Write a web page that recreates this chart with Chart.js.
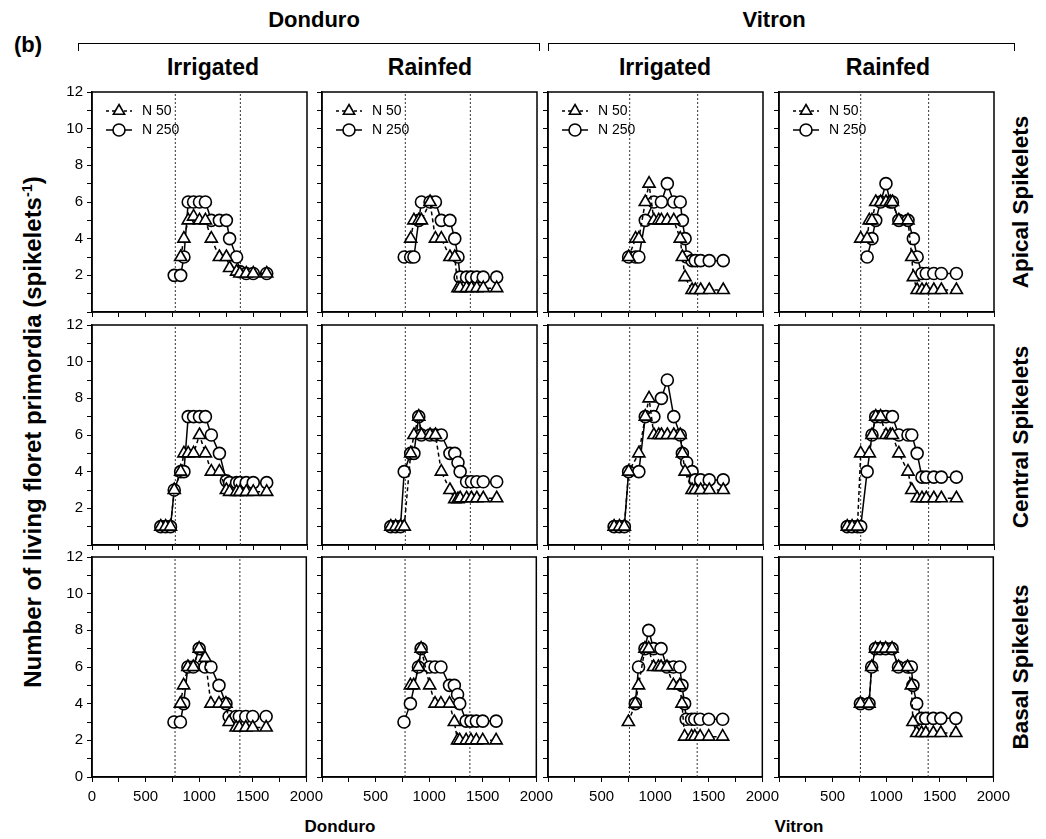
<!DOCTYPE html>
<html><head><meta charset="utf-8">
<script src="https://cdn.jsdelivr.net/npm/chart.js@4.4.1/dist/chart.umd.min.js"></script>
<style>
html,body{margin:0;padding:0;background:#fff;}
body{width:1046px;height:839px;position:relative;overflow:hidden;font-family:"Liberation Sans",Arial,sans-serif;color:#000;}
.t{position:absolute;font-weight:bold;white-space:nowrap;transform:translate(-50%,-50%);line-height:1;}
.rot{transform:translate(-50%,-50%) rotate(-90deg);}
canvas{position:absolute;}
.br{position:absolute;border:1.5px solid #000;border-bottom:none;height:8px;box-sizing:border-box;}
sup{font-size:0.6em;vertical-align:0.6em;line-height:0;}
</style></head><body>
<div class="t" style="left:28px;top:45px;font-size:22px;">(b)</div>
<div class="t" style="left:314px;top:20px;font-size:22px;">Donduro</div>
<div class="t" style="left:774px;top:20px;font-size:22px;">Vitron</div>
<div class="br" style="left:78px;top:43px;width:462px;"></div>
<div class="br" style="left:548px;top:43px;width:467px;"></div>
<div class="t" style="left:213px;top:67px;font-size:23px;">Irrigated</div>
<div class="t" style="left:430px;top:67px;font-size:23px;">Rainfed</div>
<div class="t" style="left:665px;top:67px;font-size:23px;">Irrigated</div>
<div class="t" style="left:888px;top:67px;font-size:23px;">Rainfed</div>
<div class="t rot" style="left:1021px;top:202px;font-size:22.5px;">Apical Spikelets</div>
<div class="t rot" style="left:1021px;top:437px;font-size:22.5px;">Central Spikelets</div>
<div class="t rot" style="left:1021px;top:667px;font-size:22.5px;">Basal Spikelets</div>
<div class="t rot" style="left:33px;top:432px;font-size:24px;">Number of living floret primordia (spikelets<sup>-1</sup>)</div>
<div class="t" style="left:340px;top:826px;font-size:17px;">Donduro</div>
<div class="t" style="left:799px;top:826px;font-size:17px;">Vitron</div>
<script>
// ---- Data (thermal time, °Cd) ----
const DI_tt = [640, 685, 730, 765, 825, 855, 895, 945, 1000, 1055, 1110, 1185, 1250, 1280, 1345, 1375, 1435, 1500, 1625];
const DI_apical_N50   = [null,null,null,null,3,4,5,5.2,5,5,4,3,3,2.4,2.2,2.1,2.1,2.1,2.1];
const DI_apical_N250  = [null,null,null,2,2,3,6,6,6,6,5,5,5,4,3,2.2,2.1,2.1,2.1];
const DI_central_N50  = [1,1,1,3,4,5,5,5,6,5,4,4,3,2.9,2.9,2.9,2.9,2.9,2.9];
const DI_central_N250 = [1,1,1,3,4,4,7,7,7,7,6,5,3.5,3.4,3.4,3.4,3.4,3.4,3.4];
const DI_basal_N50    = [null,null,null,null,4,5,6,6,7,6.5,4,4,4,3,2.7,2.7,2.7,2.7,2.7];
const DI_basal_N250   = [null,null,null,3,3,4,6,6,7,6,6,5,4,3.3,3.3,3.3,3.3,3.3,3.3];

const DR_tt = [640, 685, 730, 765, 825, 855, 900, 925, 1005, 1055, 1110, 1190, 1235, 1265, 1285, 1345, 1390, 1440, 1500, 1625];
const DR_apical_N50   = [null,null,null,null,4,5,5,5,6,4,4,3,3,1.3,1.3,1.3,1.3,1.3,1.3,1.3];
const DR_apical_N250  = [null,null,null,3,3,3,5,6,6,6,5,5,4,3,1.9,1.9,1.9,1.9,1.9,1.9];
const DR_central_N50  = [1,1,1,1,5,6,7,6,6,6,4,3,2.5,2.5,2.55,2.55,2.55,2.55,2.55,2.55];
const DR_central_N250 = [1,1,1,4,5,5,7,6,6,6,6,5,5,4.5,4,3.45,3.45,3.45,3.45,3.45];
const DR_basal_N50    = [null,null,null,null,5,5,6,7,5,4,4,4,3,2,2,2,2,2,2,2];
const DR_basal_N250   = [null,null,null,3,4,null,6,7,6,6,6,5,5,4.5,4,3.05,3.05,3.05,3.05,3.05];

const VI_tt = [615, 665, 710, 750, 815, 845, 905, 940, 985, 1030, 1055, 1110, 1170, 1230, 1250, 1275, 1290, 1340, 1370, 1420, 1500, 1630];
const VI_apical_N50   = [null,null,null,3,4,4,6,7,5,5,5,5,5,4,3,1.9,null,1.2,1.2,1.2,1.2,1.2];
const VI_apical_N250  = [null,null,null,3,3,3,5,null,6,null,6,7,6,6,5,4,3,2.8,2.8,2.8,2.8,2.8];
const VI_central_N50  = [1,1,1,4,null,5,7,8,6,6,6,6,6,6,5,4,null,3,3,3,3,3];
const VI_central_N250 = [1,1,1,4,null,4,7,null,7,null,8,9,7,6,5,null,4.5,4,3.55,3.55,3.55,3.55];
const VI_basal_N50    = [null,null,null,3,4,5,7,7,6,6,6,6,5,5,4,2.2,null,2.2,2.2,2.2,2.2,2.2];
const VI_basal_N250   = [null,null,null,null,4,6,7,8,7,null,7,6,6,6,5,4,3.15,3.15,3.15,3.15,3.15,3.15];

const VR_tt = [635, 680, 730, 760, 820, 840, 865, 900, 945, 995, 1035, 1055, 1115, 1200, 1235, 1250, 1285, 1330, 1370, 1440, 1510, 1650];
const VR_apical_N50   = [null,null,null,4,4,5,5,6,6,6,6,6,5,5,3,1.9,1.2,1.2,1.2,1.2,1.2,1.2];
const VR_apical_N250  = [null,null,null,null,3,null,4,5,6,7,6,6,5,5,null,4,3,2.1,2.1,2.1,2.1,2.1];
const VR_central_N50  = [1,1,1,5,null,5,6,7,7,6,6,6,5,4,3,null,2.55,2.55,2.55,2.55,2.55,2.55];
const VR_central_N250 = [1,1,1,1,4,null,6,7,7,7,null,7,6,6,6,null,5,3.7,3.7,3.7,3.7,3.7];
const VR_basal_N50    = [null,null,null,4,null,4,6,7,7,7,null,7,6,6,5,3,2.4,2.4,2.4,2.4,2.4,2.4];
const VR_basal_N250   = [null,null,null,4,null,4,6,7,7,7,null,7,6,6,6,5,4,3.2,3.2,3.2,3.2,3.2];

// phenological reference lines (dotted)
const donduroMarks = [775, 1380];
const vitronMarks  = [760, 1392];

const seriesNames = ['N 50', 'N 250'];
const xTicks = [0, 500, 1000, 1500, 2000];
const yTicks = [0, 2, 4, 6, 8, 10, 12];

// ---- layout ----
const colLeft = [92, 322, 548, 779];
const rowTop = [92, 325, 557];
const PW = 215, PH = 220;
const YW = 50, PT = 14, PR = 22, XH = 32;

const panels = [
  [DI_tt, [[DI_apical_N50, DI_apical_N250], [DI_central_N50, DI_central_N250], [DI_basal_N50, DI_basal_N250]], donduroMarks],
  [DR_tt, [[DR_apical_N50, DR_apical_N250], [DR_central_N50, DR_central_N250], [DR_basal_N50, DR_basal_N250]], donduroMarks],
  [VI_tt, [[VI_apical_N50, VI_apical_N250], [VI_central_N50, VI_central_N250], [VI_basal_N50, VI_basal_N250]], vitronMarks],
  [VR_tt, [[VR_apical_N50, VR_apical_N250], [VR_central_N50, VR_central_N250], [VR_basal_N50, VR_basal_N250]], vitronMarks]
];

Chart.defaults.font.family = '"Liberation Sans", Arial, sans-serif';
Chart.defaults.color = '#000';

function pts(tt, vals) {
  const out = [];
  tt.forEach((x, i) => { if (vals[i] !== null && vals[i] !== undefined) out.push({x: x, y: vals[i]}); });
  return out;
}

const framePlugin = {
  id: 'frame',
  beforeDatasetsDraw(chart) {
    const {ctx, chartArea: a} = chart;
    ctx.save();
    ctx.strokeStyle = '#000';
    ctx.lineWidth = 1.5;
    ctx.strokeRect(a.left, a.top, a.right - a.left, a.bottom - a.top);
    ctx.restore();
  }
};

function drawMarker(ctx, style, x, y, r) {
  ctx.save();
  ctx.fillStyle = '#fff';
  ctx.strokeStyle = '#000';
  ctx.lineWidth = 1.6;
  ctx.setLineDash([]);
  if (Chart.helpers && Chart.helpers.drawPoint) {
    Chart.helpers.drawPoint(ctx, {pointStyle: style, radius: r, borderWidth: 1.6, rotation: 0}, x, y);
  } else {
    ctx.beginPath();
    ctx.arc(x, y, r, 0, Math.PI * 2);
    ctx.fill(); ctx.stroke();
  }
  ctx.restore();
}

const legendPlugin = {
  id: 'miniLegend',
  afterDraw(chart) {
    const {ctx, chartArea: a} = chart;
    const items = [
      {text: seriesNames[0], dash: [3, 3], style: 'triangle', r: 6.5},
      {text: seriesNames[1], dash: [], style: 'circle', r: 6}
    ];
    items.forEach((it, i) => {
      const y = a.top + 19 + i * 19;
      ctx.save();
      ctx.strokeStyle = '#000';
      ctx.lineWidth = 1.5;
      ctx.setLineDash(it.dash);
      ctx.beginPath();
      ctx.moveTo(a.left + 14, y);
      ctx.lineTo(a.left + 40, y);
      ctx.stroke();
      ctx.restore();
      drawMarker(ctx, it.style, a.left + 27, y, it.r);
      ctx.save();
      ctx.fillStyle = '#000';
      ctx.font = '14px "Liberation Sans", Arial, sans-serif';
      ctx.textBaseline = 'middle';
      ctx.fillText(it.text, a.left + 50, y);
      ctx.restore();
    });
  }
};

panels.forEach((p, c) => {
  const [tt, rows, marks] = p;
  rows.forEach((pair, r) => {
    const cv = document.createElement('canvas');
    const w = PW + YW + PR, h = PH + PT + XH;
    cv.width = w; cv.height = h;
    cv.style.left = (colLeft[c] - YW) + 'px';
    cv.style.top = (rowTop[r] - PT) + 'px';
    cv.style.width = w + 'px'; cv.style.height = h + 'px';
    document.body.appendChild(cv);

    const datasets = [];
    datasets.push({
      label: seriesNames[0], data: pts(tt, pair[0]),
      borderColor: '#000', borderWidth: 1.5, borderDash: [4, 3],
      pointStyle: 'triangle', pointRadius: 7, pointBorderWidth: 1.6,
      pointBackgroundColor: '#fff', pointBorderColor: '#000', order: 1
    });
    datasets.push({
      label: seriesNames[1], data: pts(tt, pair[1]),
      borderColor: '#000', borderWidth: 1.5,
      pointStyle: 'circle', pointRadius: 6, pointBorderWidth: 1.6,
      pointBackgroundColor: '#fff', pointBorderColor: '#000', order: 2
    });
    marks.forEach(m => {
      datasets.push({
        label: 'stage', data: [{x: m, y: 0}, {x: m, y: 12}],
        borderColor: '#333', borderWidth: 1, borderDash: [2, 2],
        pointRadius: 0, order: 5
      });
    });

    const plugins = [framePlugin];
    if (r === 0) plugins.push(legendPlugin);

    new Chart(cv, {
      type: 'line',
      data: {datasets},
      plugins,
      options: {
        responsive: false, animation: false, devicePixelRatio: 1,
        layout: {padding: {top: PT, right: PR, left: 0, bottom: 0}},
        plugins: {legend: {display: false}, tooltip: {enabled: false}},
        scales: {
          x: {
            type: 'linear', min: xTicks[0], max: xTicks[xTicks.length - 1],
            ticks: {
              stepSize: 250, autoSkip: false, maxRotation: 0, padding: 6,
              font: {size: 15}, color: '#000',
              callback: v => (r === 2 && xTicks.includes(v) && (c === 0 || v !== 0)) ? String(v) : ''
            },
            grid: {drawOnChartArea: false, tickLength: 5, color: '#000', lineWidth: 1},
            border: {display: true, color: '#000', width: 1.5},
            afterFit: s => { s.height = XH; }
          },
          y: {
            min: yTicks[0], max: yTicks[yTicks.length - 1],
            ticks: {
              stepSize: 1, autoSkip: false, padding: 4,
              font: {size: 15}, color: '#000',
              callback: v => (c === 0 && yTicks.includes(v) && (r === 2 || v !== 0)) ? String(v) : ''
            },
            grid: {drawOnChartArea: false, tickLength: 5, color: '#000', lineWidth: 1},
            border: {display: true, color: '#000', width: 1.5},
            afterFit: s => { s.width = YW; }
          }
        }
      }
    });
  });
});
</script>
</body></html>
